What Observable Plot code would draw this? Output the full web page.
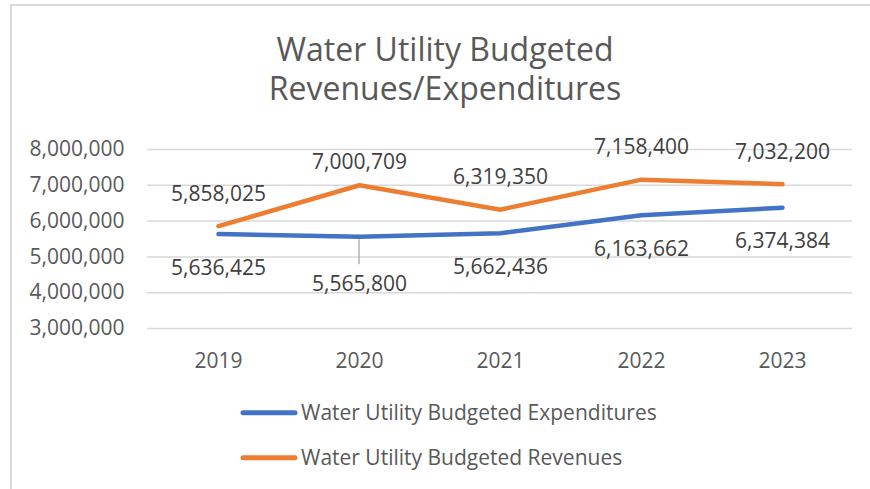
<!DOCTYPE html>
<html><head><meta charset="utf-8">
<script src="https://cdn.jsdelivr.net/npm/d3@7"></script>
<script src="https://cdn.jsdelivr.net/npm/@observablehq/plot@0.6"></script>
<style>
body{margin:0;background:#fff;}
#wrap{position:relative;width:870px;height:489px;overflow:hidden;background:#fff;font-family:"Open Sans",sans-serif;}
#frame{position:absolute;left:10px;top:4px;width:900px;height:520px;border-left:2px solid #d9d9d9;border-top:2px solid #d9d9d9;box-sizing:border-box;}
#title{position:absolute;left:10px;width:870px;top:29px;text-align:center;font-size:32px;line-height:39px;color:#595959;}
#chart{position:absolute;left:0;top:120px;}
#legend{position:absolute;left:0;top:385px;}
</style></head>
<body><div id="wrap"><div id="frame"></div><div id="title">Water Utility Budgeted<br>Revenues/Expenditures</div><div id="chart"></div><svg id="legend" width="870" height="104"></svg></div>
<script>
const years = ["2019", "2020", "2021", "2022", "2023"];
const expenditures = [5636425, 5565800, 5662436, 6163662, 6374384];
const revenues = [5858025, 7000709, 6319350, 7158400, 7032200];
const seriesNames = ["Water Utility Budgeted Expenditures", "Water Utility Budgeted Revenues"];
const seriesColors = ["#4472C4", "#ED7D31"];
const yTicks = [3000000, 4000000, 5000000, 6000000, 7000000, 8000000];

const fmt = d3.format(",");
const exp = years.map((y, i) => ({year: y, value: expenditures[i], series: seriesNames[0]}));
const rev = years.map((y, i) => ({year: y, value: revenues[i], series: seriesNames[1]}));
const moved = "2020";

const plot = Plot.plot({
  width: 870, height: 260,
  marginLeft: 147, marginRight: 18, marginTop: 29, marginBottom: 52,
  style: {fontFamily: "Open Sans", fontSize: "21px", color: "#595959", background: "transparent", overflow: "visible"},
  x: {type: "point", domain: years, padding: 0.5, label: null},
  y: {domain: [3000000, 8000000], label: null},
  marks: [
    Plot.gridY(yTicks, {stroke: "#d9d9d9", strokeOpacity: 1, strokeWidth: 1.5}),
    Plot.axisY(yTicks, {tickSize: 0, tickPadding: 23, tickFormat: fmt, label: null, fill: "#595959"}),
    Plot.axisX({tickSize: 0, tickPadding: 25, label: null, fill: "#595959"}),
    Plot.line(exp, {x: "year", y: "value", stroke: seriesColors[0], strokeWidth: 4.5, strokeLinecap: "round", strokeLinejoin: "round"}),
    Plot.line(rev, {x: "year", y: "value", stroke: seriesColors[1], strokeWidth: 4.5, strokeLinecap: "round", strokeLinejoin: "round"}),
    Plot.text(rev.filter(d => d.year !== moved), {x: "year", y: "value", text: d => fmt(d.value), dy: -32, fill: "#404040"}),
    Plot.text(rev.filter(d => d.year === moved), {x: "year", y: "value", text: d => fmt(d.value), dy: -23, fill: "#404040"}),
    Plot.text(exp.filter(d => d.year !== moved), {x: "year", y: "value", text: d => fmt(d.value), dy: 34, fill: "#404040"}),
    Plot.text(exp.filter(d => d.year === moved), {x: "year", y: "value", text: d => fmt(d.value), dy: 48, fill: "#404040"})
  ]
});
document.getElementById("chart").appendChild(plot);

// leader line for the moved expenditure label
const sx = plot.scale("x"), sy = plot.scale("y");
const md = exp.find(d => d.year === moved);
const lx = sx.apply(md.year), ly = sy.apply(md.value);
d3.select(plot).append("line")
  .attr("x1", lx).attr("x2", lx).attr("y1", ly + 3).attr("y2", ly + 28)
  .attr("stroke", "#a6a6a6").attr("stroke-width", 1.3);

// legend
const lg = d3.select("#legend");
seriesNames.forEach((name, i) => {
  const cy = 27.7 + i * 45;
  lg.append("line").attr("x1", 243).attr("x2", 295).attr("y1", cy).attr("y2", cy)
    .attr("stroke", seriesColors[i]).attr("stroke-width", 5).attr("stroke-linecap", "round");
  lg.append("text").attr("x", 301).attr("y", cy + 7.3).text(name)
    .attr("font-family", "Open Sans").attr("font-size", 21).attr("fill", "#595959");
});
</script>
</body></html>
